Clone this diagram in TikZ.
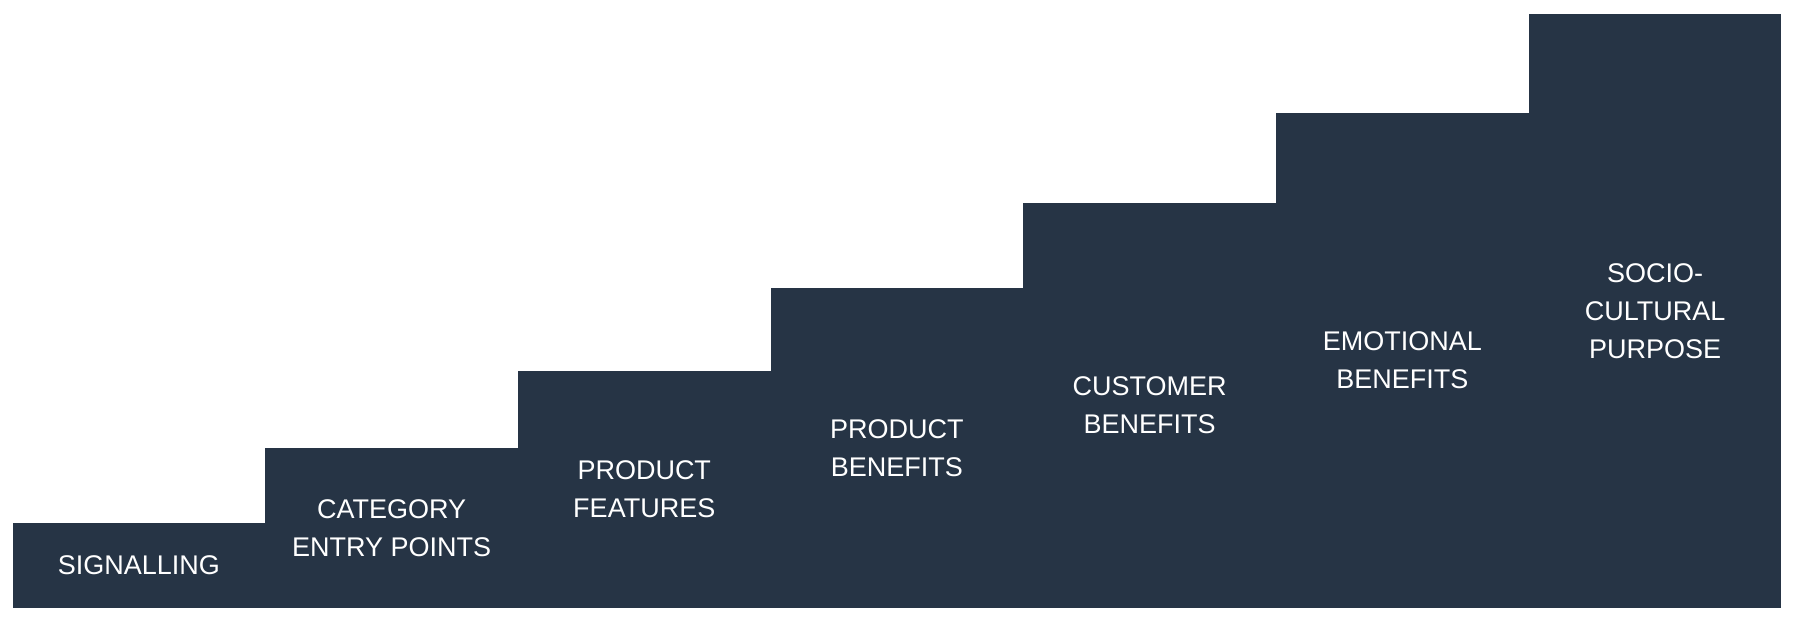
\documentclass[tikz,border=0pt]{standalone}
\usepackage{fontspec}
\setmainfont{Liberation Sans}
\usepackage{tikz}
\usetikzlibrary{positioning}
\definecolor{navy}{RGB}{38,52,69}

\begin{document}
\begin{tikzpicture}[
    x=1pt, y=-1pt,
    stepbox/.style={rectangle, fill=navy, draw=none, text=white,
                    minimum width=252.7pt, inner sep=0pt, outer sep=0pt,
                    align=center,
                    font=\fontsize{27}{38}\selectfont},
    next/.style={right=0pt of #1.south east, anchor=south west}
  ]
    \useasboundingbox (0,0) rectangle (1797,625);

    \node[stepbox, minimum height=85.3pt, anchor=south west] (signal) at (12.5,608) {SIGNALLING};
    \node[stepbox, minimum height=160pt, next=signal] (entry) {CATEGORY\\ENTRY POINTS};
    \node[stepbox, minimum height=237pt, next=entry] (feat) {PRODUCT\\FEATURES};
    \node[stepbox, minimum height=320.3pt, next=feat] (prodben) {PRODUCT\\BENEFITS};
    \node[stepbox, minimum height=405.3pt, next=prodben] (custben) {CUSTOMER\\BENEFITS};
    \node[stepbox, minimum height=494.7pt, next=custben] (emoben) {EMOTIONAL\\BENEFITS};
    \node[stepbox, minimum height=594pt, next=emoben] (purpose) {SOCIO-\\CULTURAL\\PURPOSE};
  \end{tikzpicture}
\end{document}
